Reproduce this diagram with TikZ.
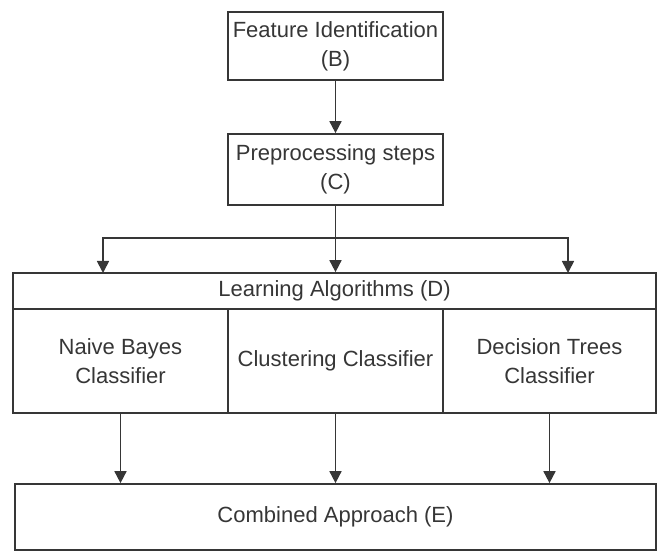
\documentclass[tikz,border=0pt]{standalone}
\usepackage{fontspec}
\setmainfont{Liberation Sans}
\usetikzlibrary{arrows.meta}
\definecolor{linegray}{HTML}{363636}
\begin{document}
\begin{tikzpicture}[x=1pt,y=-1pt,
    box/.style={draw=linegray,line width=1.7pt,text=linegray,align=center,
                inner sep=0pt,font=\fontsize{22}{29}\selectfont},
    link/.style={draw=linegray,line width=1.7pt},
    arr/.style={link,-{Triangle[width=12pt,length=12pt]}}]
\useasboundingbox (0,0) rectangle (659,553);
% top chain
\node[box,minimum width=215,minimum height=68] (feat) at (335.5,46) {Feature Identification\\(B)};
\node[box,minimum width=215,minimum height=71] (prep) at (335.5,169.5) {Preprocessing steps\\(C)};
% learning block
\node[box,minimum width=643,minimum height=36] (learn) at (334.5,291) {Learning Algorithms (D)};
\node[box,minimum width=215,minimum height=104] (bayes) at (120.5,361) {Naive Bayes\\Classifier};
\node[box,minimum width=215,minimum height=104] (clust) at (335.5,361) {Clustering Classifier};
\node[box,minimum width=213,minimum height=104] (tree) at (549.5,361) {Decision Trees\\Classifier};
\node[box,minimum width=641,minimum height=66] (comb) at (335.5,517) {Combined Approach (E)};
\coordinate (split) at (335.5,238);
\coordinate (inL) at (103,273);
\coordinate (inR) at (568,273);
\draw[arr] (feat) -- (prep);
\draw[link] (prep) -- (split);
\draw[arr] (split) -- (split |- learn.north);
\draw[arr] (split) -| (inL);
\draw[arr] (split) -| (inR);
\draw[arr] (bayes.south) -- (bayes.south |- comb.north);
\draw[arr] (clust.south) -- (clust.south |- comb.north);
\draw[arr] (tree.south) -- (tree.south |- comb.north);
\end{tikzpicture}
\end{document}
